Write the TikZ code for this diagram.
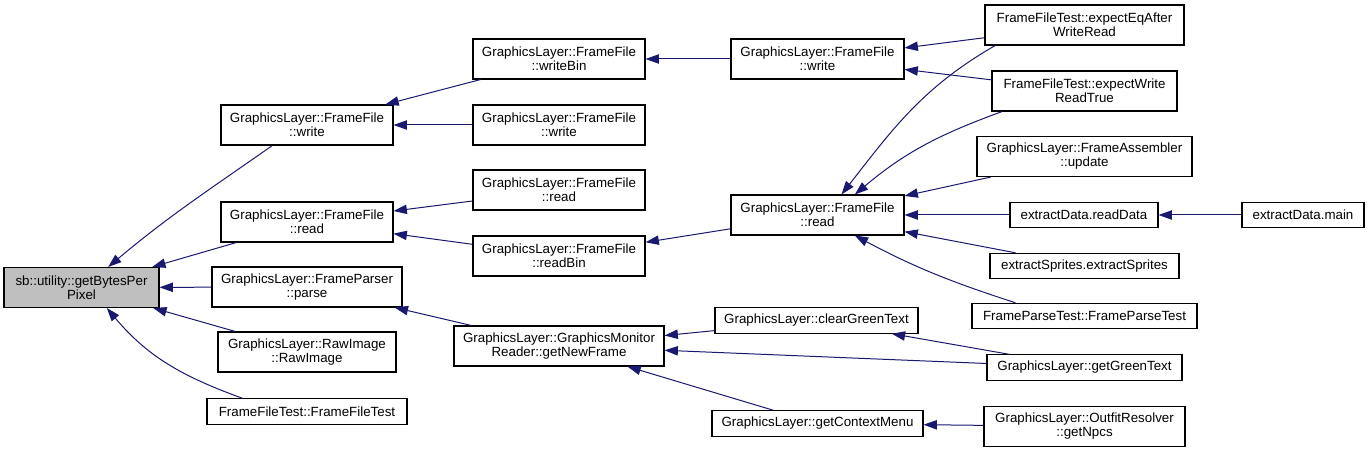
\documentclass[tikz,border=0pt]{standalone}
\usepackage{fontspec}
\setmainfont{Liberation Sans}
\usepackage{tikz}
\usetikzlibrary{arrows.meta}
\definecolor{edgeblue}{HTML}{191970}
\definecolor{rootgray}{HTML}{BFBFBF}

\begin{document}
\begin{tikzpicture}[
    x=0.75pt, y=0.75pt,
    fnbox/.style={draw, fill=white, line width=0.8pt, inner sep=0pt,
                  minimum height=30pt, align=center,
                  font=\fontsize{10}{10.5}\selectfont},
    fnline/.style={fnbox, minimum height=19pt},
    rootbox/.style={fnbox, fill=rootgray},
    callarr/.style={-{Triangle[length=10pt,width=7pt]}, line width=0.75pt, edgeblue},
]
\useasboundingbox (0,0) rectangle (1371,-452);
%% -- Column 0: the function itself --
\node[rootbox,minimum width=116.25pt](root)at(81.5,-287.5){sb::utility::getBytesPer\\Pixel};
%% -- Column 1 --
\node[fnbox,minimum width=129pt](ffw1)at(307,-125){GraphicsLayer::FrameFile\\::write};
\node[fnbox,minimum width=129pt](ffr1)at(307,-222){GraphicsLayer::FrameFile\\::read};
\node[fnbox,minimum width=142.5pt](parse)at(307,-287){GraphicsLayer::FrameParser\\::parse};
\node[fnbox,minimum width=133.5pt](raw)at(307,-352){GraphicsLayer::RawImage\\::RawImage};
\node[fnline,minimum width=150pt](fft)at(307,-411.5){FrameFileTest::FrameFileTest};
%% -- Column 2 --
\node[fnbox,minimum width=129pt](wbin)at(559,-59){GraphicsLayer::FrameFile\\::writeBin};
\node[fnbox,minimum width=129pt](ffw2)at(559,-125){GraphicsLayer::FrameFile\\::write};
\node[fnbox,minimum width=129pt](ffr2)at(559,-190){GraphicsLayer::FrameFile\\::read};
\node[fnbox,minimum width=129pt](rbin)at(559,-256){GraphicsLayer::FrameFile\\::readBin};
\node[fnbox,minimum width=157.5pt](newframe)at(559,-346){GraphicsLayer::GraphicsMonitor\\Reader::getNewFrame};
%% -- Column 3 --
\node[fnbox,minimum width=129.75pt](ffw3)at(817.5,-59){GraphicsLayer::FrameFile\\::write};
\node[fnbox,minimum width=129.75pt](ffr3)at(817.5,-215){GraphicsLayer::FrameFile\\::read};
\node[fnline,minimum width=152.25pt](clear)at(816.5,-320.5){GraphicsLayer::clearGreenText};
\node[fnline,minimum width=158.25pt](ctx)at(817.5,-423.5){GraphicsLayer::getContextMenu};
%% -- Column 4 --
\node[fnbox,minimum width=149.25pt](eqafter)at(1084.5,-25){FrameFileTest::expectEqAfter\\WriteRead};
\node[fnbox,minimum width=138.75pt](wrtrue)at(1084.5,-91){FrameFileTest::expectWrite\\ReadTrue};
\node[fnbox,minimum width=161.25pt](assembler)at(1084.5,-156.5){GraphicsLayer::FrameAssembler\\::update};
\node[fnline,minimum width=111pt](readdata)at(1084,-215){extractData.readData};
\node[fnline,minimum width=141.75pt](sprites)at(1084.5,-266){extractSprites.extractSprites};
\node[fnline,minimum width=168.75pt](parsetest)at(1084.5,-316){FrameParseTest::FrameParseTest};
\node[fnline,minimum width=146.25pt](green)at(1084.5,-367.5){GraphicsLayer::getGreenText};
\node[fnbox,minimum width=150.75pt](npcs)at(1084.5,-426.5){GraphicsLayer::OutfitResolver\\::getNpcs};
%% -- Column 5 --
\node[fnline,minimum width=91.5pt](main)at(1303,-215){extractData.main};
%% -- Calls into the root --
\draw[callarr]([xshift=-26pt]ffw1.south) to[out=215,in=40] ([xshift=20pt]root.north);
\draw[callarr](ffr1)--(root);
\draw[callarr](parse)--(root);
\draw[callarr](raw)--(root);
\draw[callarr]([xshift=27pt]fft.north west) to[out=160,in=-50] ([xshift=19pt]root.south);
%% -- Column 2 into column 1 --
\draw[callarr](wbin)--(ffw1);
\draw[callarr](ffw2)--(ffw1);
\draw[callarr](ffr2)--(ffr1);
\draw[callarr](rbin)--(ffr1);
\draw[callarr](newframe)--(parse);
%% -- Column 3 into column 2 --
\draw[callarr](ffw3)--(wbin);
\draw[callarr](ffr3)--(rbin);
\draw[callarr](clear)--(newframe);
\draw[callarr](green)--(newframe);
\draw[callarr](ctx)--(newframe);
%% -- Column 4 into column 3 --
\draw[callarr](eqafter)--(ffw3);
\draw[callarr](wrtrue)--(ffw3);
\draw[callarr]([xshift=8pt]eqafter.south west) to[out=210,in=52] ([xshift=18pt]ffr3.north);
\draw[callarr]([xshift=8pt]wrtrue.south west) to[out=200,in=40] ([xshift=28pt]ffr3.north);
\draw[callarr](assembler)--(ffr3);
\draw[callarr](readdata)--(ffr3);
\draw[callarr](sprites)--(ffr3);
\draw[callarr]([xshift=33pt]parsetest.north west) to[out=162,in=-28] ([xshift=28pt]ffr3.south);
\draw[callarr](green)--(clear);
\draw[callarr](npcs)--(ctx);
%% -- Column 5 into column 4 --
\draw[callarr](main)--(readdata);
\end{tikzpicture}
\end{document}
